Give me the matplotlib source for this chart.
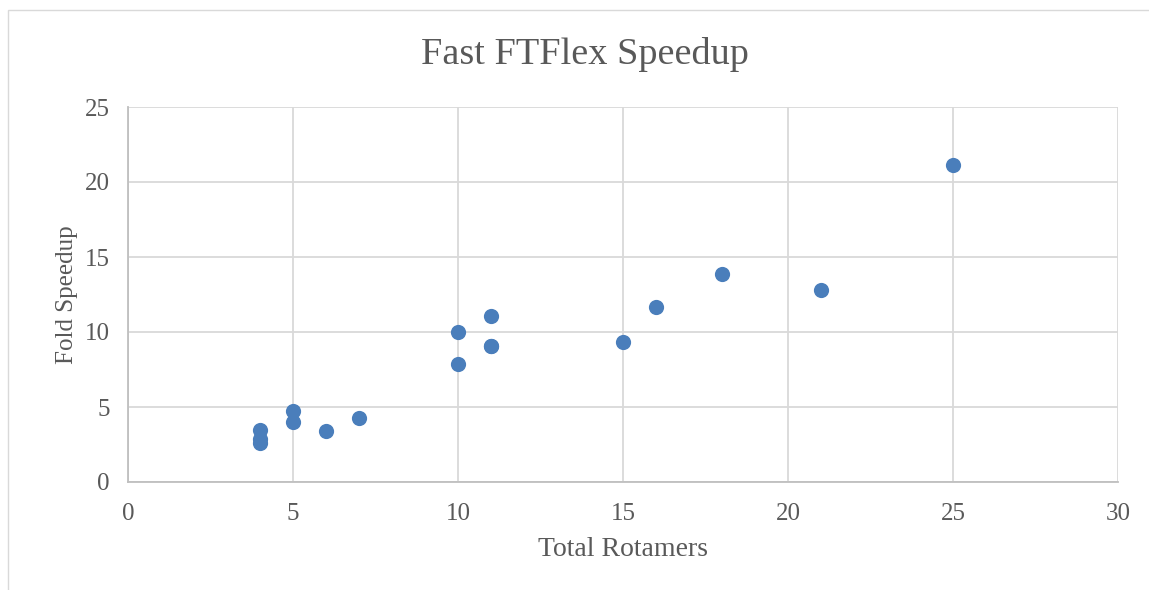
import matplotlib.pyplot as plt
from matplotlib.patches import Rectangle

# data
rotamers = [4, 4, 4, 5, 5, 6, 7, 10, 10, 11, 11, 11, 15, 16, 18, 21, 25]
speedup = [3.45, 2.85, 2.6, 4.75, 4.0, 3.4, 4.3, 10.0, 7.85, 11.1, 9.05, 9.1,
           9.35, 11.65, 13.9, 12.8, 21.15]

xticks = [0, 5, 10, 15, 20, 25, 30]
yticks = [0, 5, 10, 15, 20, 25]

plt.rcParams['font.family'] = ['Liberation Serif', 'DejaVu Serif']
text_col = '#595959'

fig = plt.figure(figsize=(11.49, 5.9), dpi=100)
ax = fig.add_axes([128 / 1149, 1 - 482 / 590, (1118 - 128) / 1149, (482 - 107) / 590])

# light border round the chart area
fig.patches.append(Rectangle((8 / 1149, -0.1), 1.2, 1 - 10 / 590 + 0.1,
                             transform=fig.transFigure, fill=False,
                             edgecolor='#d9d9d9', linewidth=1))

ax.scatter(rotamers, speedup, s=120, color='#4a7ebb', zorder=3, linewidths=0)

ax.set_xlim(0, 30)
ax.set_ylim(0, 25)
ax.set_xticks(xticks)
ax.set_yticks(yticks)
ax.grid(True, color='#d9d9d9', linewidth=1.3)
ax.set_axisbelow(True)
for s in ['top', 'right']:
    ax.spines[s].set_visible(False)
for s in ['left', 'bottom']:
    ax.spines[s].set_color('#bfbfbf')
    ax.spines[s].set_linewidth(1.3)
ax.tick_params(length=0, labelsize=18, labelcolor=text_col)
ax.tick_params(axis='x', pad=15)
ax.tick_params(axis='y', pad=13)

ax.set_xlabel('Total Rotamers', fontsize=20, color=text_col, labelpad=9)
ax.set_ylabel('Fold Speedup', fontsize=18, color=text_col, labelpad=5)
fig.text(0.509, 1 - 55 / 590, 'Fast FTFlex Speedup', fontsize=27.5, color=text_col,
         ha='center', va='center')

fig.savefig('out.png', dpi=100)
